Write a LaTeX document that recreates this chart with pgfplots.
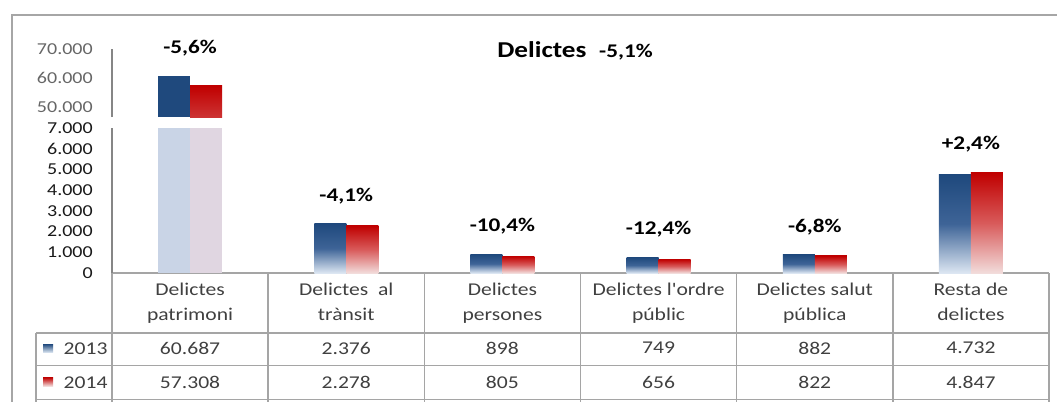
\documentclass[border=0pt]{standalone}
\usepackage{fontspec}
\setmainfont{Carlito}[FakeStretch=1.2]
\newfontfamily\apos{Carlito}[FakeStretch=1.2]
\usepackage{pgfplots}
\pgfplotsset{compat=1.18}
\usepackage{pgfplotstable}

\definecolor{dblue}{HTML}{1F497D}
\definecolor{lblue}{HTML}{DCE6F2}
\definecolor{mblue}{HTML}{3E6497}
\definecolor{dred}{HTML}{C00000}
\definecolor{lred}{HTML}{F2DCDB}
\definecolor{mred}{HTML}{D85A5A}
\definecolor{fblue}{HTML}{C9D4E6}
\definecolor{fred}{HTML}{E0D6E1}
\definecolor{framec}{HTML}{A6A6A6}
\definecolor{gridc}{HTML}{A5A5A5}
\definecolor{axisc}{HTML}{868686}
\definecolor{txt}{HTML}{404040}

\pgfplotstableread{
x y13 y14
0.5 60687 57308
1.5 2376 2278
2.5 898 805
3.5 749 656
4.5 882 822
5.5 4732 4847
}\data

\pgfplotsset{
  common/.style={
    anchor=south west, scale only axis, width=702.75pt,
    xmin=0, xmax=6, clip mode=individual,
    axis lines*=left, x axis line style={draw=none},
    y axis line style={axisc, line width=0.8pt},
    major tick length=0pt, scaled y ticks=false,
    /pgf/number format/1000 sep={.},
    /pgf/number format/assume math mode=true,
  },
}
\tikzset{
  pct/.style={font=\bfseries\fontsize{14.5}{17}\selectfont, text=black, anchor=center, yshift=21pt},
  val/.style={font=\fontsize{13.5}{16}\selectfont, text=txt, anchor=center},
}

\begin{document}
\begin{tikzpicture}[x=0.75pt,y=-0.75pt]
\path[use as bounding box] (0,0) rectangle (1057,401);
\draw[framec, line width=1.5pt] (12,405) -- (12,15) -- (1060,15);

% table grid
\draw[gridc, line width=1.1pt] (112,273) -- (1049,273);
\draw[gridc, line width=1.1pt] (36,333) -- (1049,333);
\draw[gridc, line width=1.1pt] (36,365.5) -- (1049,365.5);
\draw[gridc, line width=1.1pt] (36,399.5) -- (1049,399.5);
\draw[gridc, line width=1.1pt] (36,333) -- (36,402);
\foreach \xx in {112,268.2,424.3,580.5,736.7,892.8,1049} {
  \draw[gridc, line width=1.1pt] (\xx,273) -- (\xx,402);
}

% legend keys
\shade[top color=dblue, bottom color=lblue] (43,344) rectangle (53,352.5);
\shade[top color=dred, bottom color=lred] (43,377.5) rectangle (53,386);
\node[val, anchor=west] at (59,349) {2013};
\node[val, anchor=west] at (59,382.5) {2014};

% title
\node[anchor=base] at (575,57) {{\bfseries\fontsize{17}{20}\selectfont Delictes}\hspace{9.5pt}{\bfseries\fontsize{14.5}{17}\selectfont -5,1\%}};

% upper panel
\begin{axis}[common, at={(84pt,-87.75pt)}, height=51pt,
  ymin=46550, ymax=70000, xtick=\empty, ytick={50000,60000,70000},
  yticklabel style={inner sep=0pt, xshift=-14.25pt, font=\fontsize{12.5}{14}\selectfont, text=black!60}]
\addplot[ybar, bar width=24pt, bar shift=-12pt, draw=none, fill=dblue,
  restrict expr to domain={\coordindex}{0:0}] table[x=x, y=y13]{\data};
\addplot[ybar, bar width=24pt, bar shift=12pt, draw=none, top color=dred, bottom color=dred!80!white,
  restrict expr to domain={\coordindex}{0:0}] table[x=x, y=y14]{\data};
\node[pct] at (axis cs:0.5,60687) {-5,6\%};
\end{axis}

% lower panel
\begin{axis}[common, at={(84pt,-204.75pt)}, height=108.75pt,
  ymin=0, ymax=7000, ytick={0,1000,2000,3000,4000,5000,6000,7000},
  yticklabel style={inner sep=0pt, xshift=-14.25pt, font=\fontsize{12.5}{14}\selectfont, text=black!90},
  xtick={0.5,1.5,2.5,3.5,4.5,5.5},
  xticklabels={{Delictes\\patrimoni},{Delictes\ \ al\\trànsit},{Delictes\\persones},{Delictes l{\apos'}ordre\\públic},{Delictes salut\\pública},{Resta de\\delictes}},
  xticklabel style={align=center, anchor=north, inner sep=0pt, yshift=-7pt, text=txt, font=\fontsize{13.5}{18.75}\selectfont}]
\addplot[ybar, bar width=24pt, bar shift=-12pt, draw=none, fill=fblue,
  restrict expr to domain={\coordindex}{0:0}] table[x=x, y=y13]{\data};
\addplot[ybar, bar width=24pt, bar shift=12pt, draw=none, fill=fred,
  restrict expr to domain={\coordindex}{0:0}] table[x=x, y=y14]{\data};
\pgfplotsinvokeforeach{1,2,3,4,5}{
\addplot[ybar, bar width=24pt, bar shift=-12pt, draw=none,
  top color=dblue, bottom color=lblue, middle color=mblue,
  restrict expr to domain={\coordindex}{#1:#1}] table[x=x, y=y13]{\data};
\addplot[ybar, bar width=24pt, bar shift=12pt, draw=none,
  top color=dred, bottom color=lred, middle color=mred,
  restrict expr to domain={\coordindex}{#1:#1}] table[x=x, y=y14]{\data};
}
\node[pct] at (axis cs:1.5,2376) {-4,1\%};
\node[pct] at (axis cs:2.5,898) {-10,4\%};
\node[pct] at (axis cs:3.5,749) {-12,4\%};
\node[pct] at (axis cs:4.5,882) {-6,8\%};
\node[pct] at (axis cs:5.5,4847) {+2,4\%};
% data table values
\node[val, yshift=-56.25pt] at (axis cs:0.5,0) {60.687};
\node[val, yshift=-56.25pt] at (axis cs:1.5,0) {2.376};
\node[val, yshift=-56.25pt] at (axis cs:2.5,0) {898};
\node[val, yshift=-56.25pt] at (axis cs:3.5,0) {749};
\node[val, yshift=-56.25pt] at (axis cs:4.5,0) {882};
\node[val, yshift=-56.25pt] at (axis cs:5.5,0) {4.732};
\node[val, yshift=-81.75pt] at (axis cs:0.5,0) {57.308};
\node[val, yshift=-81.75pt] at (axis cs:1.5,0) {2.278};
\node[val, yshift=-81.75pt] at (axis cs:2.5,0) {805};
\node[val, yshift=-81.75pt] at (axis cs:3.5,0) {656};
\node[val, yshift=-81.75pt] at (axis cs:4.5,0) {822};
\node[val, yshift=-81.75pt] at (axis cs:5.5,0) {4.847};
\end{axis}
\end{tikzpicture}
\end{document}
